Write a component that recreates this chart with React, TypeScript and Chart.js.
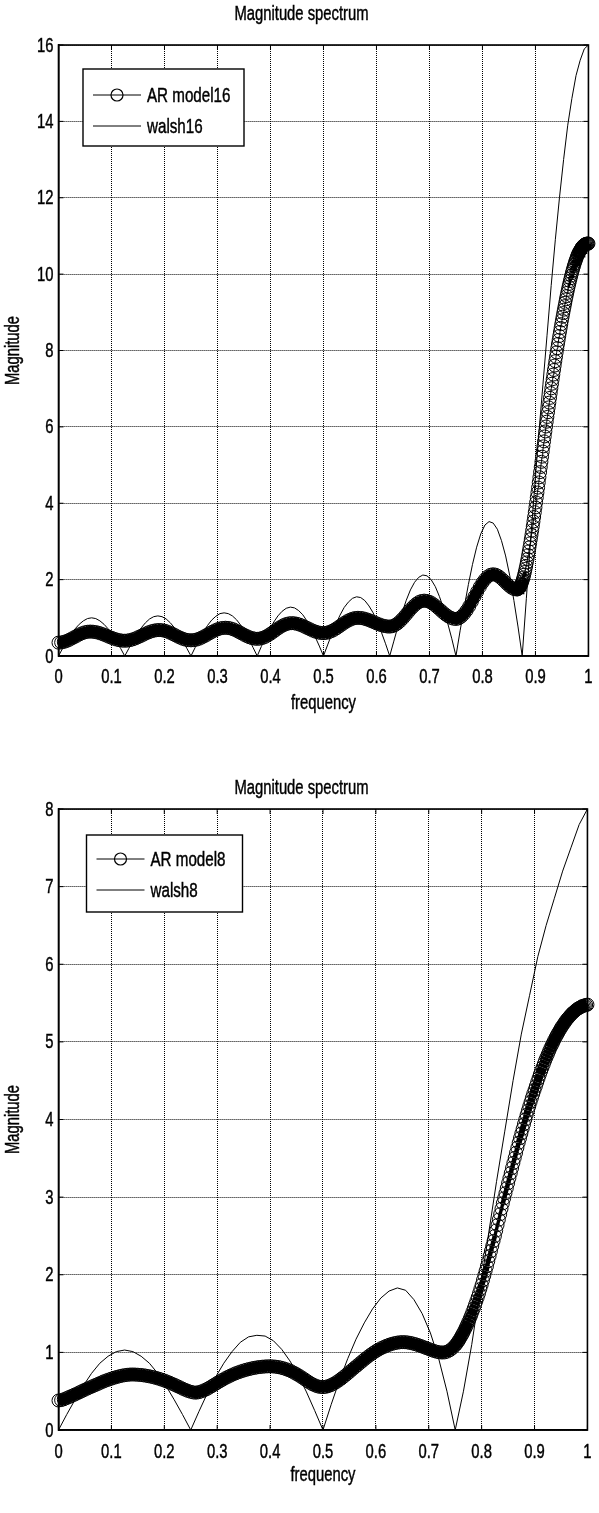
import React, { useEffect, useRef } from "react";
import { Chart, registerables } from "chart.js";

Chart.register(...registerables);

const FONT_FAMILY = '"Liberation Sans", Arial, sans-serif';

// ---- text ----
const TITLE = "Magnitude spectrum";
const X_LABEL = "frequency";
const Y_LABEL = "Magnitude";
const LABELS_16 = ["AR model16", "walsh16"];
const LABELS_8 = ["AR model8", "walsh8"];

// ---- tick labels ----
const FREQ_TICKS = [0, 0.1, 0.2, 0.3, 0.4, 0.5, 0.6, 0.7, 0.8, 0.9, 1];
const MAG16_TICKS = [0, 2, 4, 6, 8, 10, 12, 14, 16];
const MAG8_TICKS = [0, 1, 2, 3, 4, 5, 6, 7, 8];

// ---- walsh16 spectrum, sampled every 1/128 ----
const WALSH16_STEP = 1 / 128;
const WALSH16 = [
  0, 0.20, 0.38, 0.56, 0.71, 0.83, 0.92, 0.98, 1.0, 0.98, 0.92, 0.83, 0.71, 0.56, 0.38, 0.20,
  0, 0.20, 0.40, 0.58, 0.74, 0.87, 0.97, 1.03, 1.05, 1.03, 0.97, 0.87, 0.74, 0.58, 0.40, 0.20,
  0, 0.22, 0.43, 0.63, 0.80, 0.94, 1.04, 1.11, 1.13, 1.11, 1.05, 0.95, 0.81, 0.64, 0.44, 0.22,
  0, 0.25, 0.48, 0.70, 0.89, 1.05, 1.17, 1.25, 1.28, 1.26, 1.19, 1.08, 0.92, 0.73, 0.50, 0.26,
  0, 0.29, 0.57, 0.83, 1.07, 1.27, 1.41, 1.51, 1.55, 1.53, 1.45, 1.31, 1.13, 0.90, 0.62, 0.32,
  0, 0.39, 0.78, 1.14, 1.46, 1.73, 1.93, 2.06, 2.12, 2.10, 2.00, 1.82, 1.56, 1.25, 0.86, 0.45,
  0, 0.66, 1.28, 1.87, 2.40, 2.85, 3.20, 3.43, 3.52, 3.48, 3.32, 3.02, 2.62, 2.10, 1.45, 0.76,
  0, 1.5, 3.0, 4.4, 5.8, 7.1, 8.4, 9.7, 10.9, 12.0, 13.0, 13.9, 14.6, 15.2, 15.6, 15.9, 16,
];

// ---- walsh8 spectrum, sampled every 1/64 ----
const WALSH8_STEP = 1 / 64;
const WALSH8 = [
  0, 0.20, 0.39, 0.57, 0.73, 0.86, 0.95, 1.01, 1.03, 1.01, 0.95, 0.86, 0.73, 0.57, 0.39, 0.20,
  0, 0.24, 0.47, 0.68, 0.86, 1.01, 1.13, 1.20, 1.22, 1.21, 1.15, 1.04, 0.89, 0.71, 0.49, 0.25,
  0, 0.33, 0.64, 0.92, 1.17, 1.38, 1.56, 1.70, 1.79, 1.83, 1.80, 1.68, 1.50, 1.25, 0.92, 0.50,
  0, 0.5, 1.1, 1.8, 2.5, 3.2, 3.85, 4.5, 5.1, 5.6, 6.1, 6.5, 6.85, 7.2, 7.5, 7.8, 8.0,
];

// ---- AR model 16: every 0.005 up to 0.865, then every 0.00125 ----
const AR16_STEP = 0.005;
const AR16 = [
  0.35, 0.355, 0.369, 0.392, 0.423, 0.458, 0.495, 0.532, 0.568, 0.598, 0.621, 0.635, 0.64,
  0.636, 0.626, 0.61, 0.588, 0.563, 0.534, 0.506, 0.477, 0.452, 0.43, 0.414, 0.403, 0.40,
  0.404, 0.416, 0.435, 0.46, 0.49, 0.523, 0.557, 0.59, 0.62, 0.645, 0.664, 0.676, 0.68,
  0.675, 0.662, 0.641, 0.613, 0.58, 0.545, 0.51, 0.478, 0.449, 0.428, 0.415, 0.41,
  0.415, 0.429, 0.451, 0.481, 0.516, 0.555, 0.595, 0.634, 0.669, 0.699, 0.721, 0.735, 0.74,
  0.735, 0.721, 0.698, 0.668, 0.632, 0.595, 0.558, 0.523, 0.492, 0.469, 0.455, 0.45,
  0.456, 0.473, 0.501, 0.538, 0.581, 0.63, 0.68, 0.729, 0.772, 0.809, 0.837, 0.854, 0.86,
  0.856, 0.843, 0.822, 0.795, 0.764, 0.73, 0.696, 0.665, 0.638, 0.617, 0.604, 0.60,
  0.606, 0.623, 0.65, 0.686, 0.728, 0.776, 0.824, 0.872, 0.914, 0.95, 0.977, 0.994, 1.0,
  0.996, 0.985, 0.966, 0.943, 0.915, 0.885, 0.855, 0.828, 0.804, 0.785, 0.774, 0.77,
  0.78, 0.809, 0.855, 0.916, 0.988, 1.069, 1.151, 1.232, 1.304, 1.365, 1.411, 1.44, 1.45,
  1.442, 1.418, 1.38, 1.33, 1.272, 1.21, 1.148, 1.09, 1.04, 1.002, 0.978, 0.97,
  0.985, 1.029, 1.1, 1.19, 1.301, 1.425, 1.555, 1.685, 1.809, 1.92, 2.01, 2.082, 2.125, 2.14,
  2.128, 2.093, 2.04, 1.975, 1.905, 1.84, 1.787, 1.752, 1.74,
];
const AR16_FINE_START = 0.86625;
const AR16_FINE_STEP = 0.00125;
const AR16_FINE = [
  1.75, 1.76, 1.78, 1.80, 1.83, 1.86, 1.90, 1.95,
  2.0, 2.06, 2.13, 2.20, 2.28, 2.36, 2.45, 2.54,
  2.64, 2.74, 2.845, 2.95, 3.06, 3.17, 3.285, 3.40,
  3.52, 3.64, 3.765, 3.89, 4.02, 4.15, 4.28, 4.41,
  4.545, 4.68, 4.815, 4.95, 5.085, 5.22, 5.355, 5.49,
  5.62, 5.75, 5.88, 6.01, 6.135, 6.26, 6.385, 6.51,
  6.635, 6.76, 6.885, 7.01, 7.13, 7.25, 7.37, 7.49,
  7.605, 7.72, 7.835, 7.95, 8.06, 8.17, 8.275, 8.38,
  8.485, 8.59, 8.69, 8.79, 8.885, 8.98, 9.07, 9.16,
  9.25, 9.34, 9.425, 9.51, 9.59, 9.67, 9.745, 9.82,
  9.89, 9.96, 10.025, 10.09, 10.15, 10.21, 10.265, 10.32,
  10.37, 10.42, 10.465, 10.51, 10.545, 10.58, 10.61, 10.64,
  10.67, 10.7, 10.72, 10.74, 10.755, 10.77, 10.78, 10.79,
  10.795, 10.8, 10.8, 10.8,
];

// ---- AR model 8: every 0.005 up to 0.745, then every 0.0025 ----
const AR8_STEP = 0.005;
const AR8 = [
  0.38, 0.385, 0.395, 0.41, 0.425, 0.44, 0.455, 0.47, 0.487, 0.503,
  0.52, 0.535, 0.55, 0.565, 0.58, 0.595, 0.61, 0.625, 0.638, 0.65,
  0.662, 0.673, 0.683, 0.692, 0.70, 0.706, 0.711, 0.714, 0.715, 0.714,
  0.712, 0.709, 0.705, 0.70, 0.694, 0.687, 0.679, 0.67, 0.66, 0.649,
  0.637, 0.624, 0.61, 0.595, 0.58, 0.564, 0.548, 0.532, 0.517, 0.503,
  0.492, 0.484, 0.481, 0.487, 0.497, 0.51, 0.526, 0.545, 0.565, 0.586,
  0.607, 0.627, 0.647, 0.666, 0.684, 0.70, 0.716, 0.73, 0.743, 0.755,
  0.766, 0.776, 0.785, 0.793, 0.80, 0.806, 0.811, 0.815, 0.818, 0.82,
  0.82, 0.819, 0.816, 0.811, 0.804, 0.795, 0.784, 0.771, 0.756, 0.739,
  0.72, 0.70, 0.678, 0.655, 0.632, 0.61, 0.59, 0.574, 0.562, 0.555,
  0.553, 0.556, 0.565, 0.578, 0.595, 0.615, 0.638, 0.663, 0.69, 0.718,
  0.747, 0.776, 0.805, 0.833, 0.862, 0.89, 0.918, 0.945, 0.97, 0.994,
  1.016, 1.036, 1.054, 1.07, 1.085, 1.098, 1.109, 1.118, 1.125, 1.13,
  1.132, 1.131, 1.128, 1.122, 1.114, 1.105, 1.094, 1.082, 1.069, 1.056,
  1.043, 1.03, 1.018, 1.008, 1.001, 0.998, 1.0, 1.01, 1.028, 1.055,
];
const AR8_FINE_START = 0.75;
const AR8_FINE_STEP = 0.0025;
const AR8_FINE = [
  1.09, 1.11, 1.135, 1.16, 1.19, 1.22, 1.25, 1.285, 1.32, 1.357,
  1.395, 1.435, 1.475, 1.52, 1.565, 1.612, 1.66, 1.71, 1.76, 1.815,
  1.87, 1.93, 1.99, 2.05, 2.11, 2.175, 2.24, 2.305, 2.37, 2.435,
  2.5, 2.57, 2.64, 2.71, 2.78, 2.85, 2.92, 2.985, 3.05, 3.115,
  3.18, 3.245, 3.31, 3.375, 3.44, 3.505, 3.57, 3.635, 3.7, 3.76,
  3.82, 3.88, 3.94, 4.0, 4.06, 4.115, 4.17, 4.225, 4.28, 4.33,
  4.38, 4.43, 4.48, 4.53, 4.58, 4.625, 4.67, 4.715, 4.76, 4.8,
  4.84, 4.88, 4.92, 4.955, 4.99, 5.025, 5.06, 5.09, 5.12, 5.15,
  5.18, 5.205, 5.23, 5.255, 5.28, 5.3, 5.32, 5.34, 5.36, 5.375,
  5.39, 5.405, 5.42, 5.43, 5.44, 5.45, 5.46, 5.465, 5.47, 5.475,
  5.48,
];

type Pt = { x: number; y: number };
const onGrid = (vals: number[], start: number, step: number): Pt[] =>
  vals.map((y, i) => ({ x: start + i * step, y }));

const AR16_POINTS = [...onGrid(AR16, 0, AR16_STEP), ...onGrid(AR16_FINE, AR16_FINE_START, AR16_FINE_STEP)];
const WALSH16_POINTS = onGrid(WALSH16, 0, WALSH16_STEP);
const AR8_POINTS = [...onGrid(AR8, 0, AR8_STEP), ...onGrid(AR8_FINE, AR8_FINE_START, AR8_FINE_STEP)];
const WALSH8_POINTS = onGrid(WALSH8, 0, WALSH8_STEP);

const FONT_SIZE = 20;
const LEGEND_FONT_SIZE = 20.5;
const TEXT_CONDENSE = 0.74;
const PAGE_WIDTH = 599;
const CANVAS_WIDTH = 603; // right-most tick label spills past the page edge, as in the original

// condensed, slightly heavier (MATLAB-like) text: fillText on this context is squeezed horizontally
function condenseContext(ctx: any, sx: number) {
  if (!ctx || ctx.__condensed) return;
  const origFill = ctx.fillText.bind(ctx);
  const origStroke = ctx.strokeText.bind(ctx);
  ctx.fillText = (text: string, x: number, y: number, maxWidth?: number) => {
    ctx.save();
    ctx.translate(x, y);
    ctx.scale(sx, 1);
    const mw = maxWidth !== undefined && maxWidth !== null ? maxWidth / sx : undefined;
    if (mw !== undefined) origFill(text, 0, 0, mw);
    else origFill(text, 0, 0);
    ctx.setLineDash([]);
    ctx.strokeStyle = ctx.fillStyle;
    ctx.lineWidth = 0.45;
    if (mw !== undefined) origStroke(text, 0, 0, mw);
    else origStroke(text, 0, 0);
    ctx.restore();
  };
  ctx.__condensed = true;
}

// legend drawn inside the axes, MATLAB style
const boxLegendPlugin = {
  id: "boxLegend",
  afterDatasetsDraw(chart: any, _args: any, opts: any) {
    const { ctx, chartArea } = chart;
    const x0 = chartArea.left + opts.offsetX;
    const y0 = chartArea.top + opts.offsetY;
    ctx.save();
    ctx.fillStyle = "#fff";
    ctx.fillRect(x0, y0, opts.width, opts.height);
    ctx.strokeStyle = "#000";
    ctx.lineWidth = 1.4;
    ctx.strokeRect(x0, y0, opts.width, opts.height);
    chart.data.datasets.forEach((ds: any, i: number) => {
      const cy = y0 + opts.rowY[i];
      ctx.beginPath();
      ctx.lineWidth = 1;
      ctx.strokeStyle = "#000";
      ctx.moveTo(x0 + opts.lineX0, cy);
      ctx.lineTo(x0 + opts.lineX1, cy);
      ctx.stroke();
      if (ds.pointRadius > 0) {
        ctx.beginPath();
        ctx.lineWidth = 1.2;
        ctx.arc(x0 + (opts.lineX0 + opts.lineX1) / 2, cy, 6, 0, Math.PI * 2);
        ctx.stroke();
      }
      ctx.fillStyle = "#000";
      ctx.font = `${LEGEND_FONT_SIZE}px ${FONT_FAMILY}`;
      ctx.textBaseline = "middle";
      ctx.textAlign = "left";
      ctx.fillText(ds.label, x0 + opts.textX, cy + 1);
    });
    ctx.restore();
  },
};

// axes box with inward tick marks
const axesBoxPlugin = {
  id: "axesBox",
  afterDraw(chart: any) {
    const { ctx, chartArea, scales } = chart;
    const { left, right, top, bottom } = chartArea;
    ctx.save();
    ctx.strokeStyle = "#000";
    ctx.lineWidth = 1;
    const tl = 5;
    ctx.beginPath();
    scales.x.ticks.forEach((t: any) => {
      const px = scales.x.getPixelForValue(t.value);
      ctx.moveTo(px, bottom);
      ctx.lineTo(px, bottom - tl);
      ctx.moveTo(px, top);
      ctx.lineTo(px, top + tl);
    });
    scales.y.ticks.forEach((t: any) => {
      const py = scales.y.getPixelForValue(t.value);
      ctx.moveTo(left, py);
      ctx.lineTo(left + tl, py);
      ctx.moveTo(right, py);
      ctx.lineTo(right - tl, py);
    });
    ctx.stroke();
    ctx.lineWidth = 1.6;
    ctx.strokeRect(left, top, right - left, bottom - top);
    ctx.restore();
  },
};

// MATLAB's 512-sample '-o' trace: where the curve is shallow the markers pile up into a solid
// band; where it is steep they separate. Marker spacing there ~ 1.05 px * sqrt(1 + slope^2).
const bandWidth = (c: any) => {
  const dx = Math.abs(c.p1.x - c.p0.x) || 1e-6;
  const m = Math.abs(c.p1.y - c.p0.y) / dx;
  const spacing = 1.05 * Math.sqrt(1 + m * m);
  if (spacing <= 2.6) return 11;
  if (spacing >= 5) return 1;
  return 11 - ((spacing - 2.6) / 2.4) * 10;
};

type ChartSpec = {
  canvasHeight: number;
  yMax: number;
  yTicks: number[];
  labels: string[];
  arPoints: Pt[];
  walshPoints: Pt[];
  titlePad: { top: number; bottom: number };
  xAxisHeight: number;
  xTickPad: number;
  xTitleBottom: number;
  legend: any;
};

function SpectrumChart({ spec }: { spec: ChartSpec }) {
  const ref = useRef<HTMLCanvasElement | null>(null);
  useEffect(() => {
    if (!ref.current) return;
    condenseContext(ref.current.getContext("2d"), TEXT_CONDENSE);
    const chart = new Chart(ref.current, {
      type: "line",
      data: {
        datasets: [
          {
            label: spec.labels[0],
            data: spec.arPoints,
            borderColor: "#000",
            borderWidth: 1,
            segment: { borderWidth: bandWidth },
            pointStyle: "circle",
            pointRadius: 6.5,
            pointBorderWidth: 1,
            pointBorderColor: "#000",
            pointBackgroundColor: "rgba(0,0,0,0)",
            pointHoverRadius: 6.5,
            tension: 0,
            clip: false,
            order: 1,
          } as any,
          {
            label: spec.labels[1],
            data: spec.walshPoints,
            borderColor: "#000",
            borderWidth: 1,
            pointRadius: 0,
            pointHoverRadius: 0,
            tension: 0,
            order: 0,
          } as any,
        ],
      },
      options: {
        responsive: false,
        animation: false,
        events: [],
        layout: { padding: { left: 0, right: 0, top: 0, bottom: 0 } },
        font: { family: FONT_FAMILY, size: FONT_SIZE },
        plugins: {
          legend: { display: false },
          tooltip: { enabled: false },
          title: {
            display: true,
            text: TITLE,
            color: "#000",
            font: { family: FONT_FAMILY, size: FONT_SIZE, weight: "normal" },
            padding: spec.titlePad,
          },
          boxLegend: spec.legend,
        } as any,
        scales: {
          x: {
            type: "linear",
            min: 0,
            max: 1,
            afterBuildTicks: (s: any) => {
              s.ticks = FREQ_TICKS.map((v) => ({ value: v }));
            },
            afterFit: (s: any) => {
              s.height = spec.xAxisHeight;
            },
            ticks: {
              color: "#000",
              font: { family: FONT_FAMILY, size: FONT_SIZE },
              padding: spec.xTickPad,
              maxRotation: 0,
              autoSkip: false,
              callback: (v: any) => String(v),
            },
            grid: { color: "#000", lineWidth: 1, drawTicks: false },
            border: { display: true, color: "#000", width: 1.6, dash: [1, 1] },
            title: {
              display: true,
              text: X_LABEL,
              color: "#000",
              font: { family: FONT_FAMILY, size: FONT_SIZE },
              padding: { top: 0, bottom: spec.xTitleBottom },
            },
          },
          y: {
            type: "linear",
            min: 0,
            max: spec.yMax,
            afterBuildTicks: (s: any) => {
              s.ticks = spec.yTicks.map((v) => ({ value: v }));
            },
            afterFit: (s: any) => {
              s.width = 58.5;
              s.paddingTop = 0;
              s.paddingBottom = 0;
            },
            ticks: {
              color: "#000",
              font: { family: FONT_FAMILY, size: FONT_SIZE },
              padding: 5,
              labelOffset: 1,
              callback: (v: any) => String(v),
            },
            grid: { color: "#000", lineWidth: 1, drawTicks: false },
            border: { display: true, color: "#000", width: 1.6, dash: [1, 1] },
            title: {
              display: true,
              text: Y_LABEL,
              color: "#000",
              font: { family: FONT_FAMILY, size: FONT_SIZE },
              padding: { top: 1.8, bottom: 0 },
            },
          },
        },
      },
      plugins: [boxLegendPlugin, axesBoxPlugin],
    } as any);
    return () => chart.destroy();
  }, [spec]);
  return (
    <div style={{ width: PAGE_WIDTH, height: spec.canvasHeight, overflow: "hidden" }}>
      <canvas ref={ref} width={CANVAS_WIDTH} height={spec.canvasHeight} style={{ display: "block" }} />
    </div>
  );
}

const SPEC_16: ChartSpec = {
  canvasHeight: 757,
  yMax: 16,
  yTicks: MAG16_TICKS,
  labels: LABELS_16,
  arPoints: AR16_POINTS,
  walshPoints: WALSH16_POINTS,
  titlePad: { top: 2, bottom: 19 },
  xAxisHeight: 101,
  xTickPad: 9,
  xTitleBottom: 41.8,
  legend: { offsetX: 24.5, offsetY: 24, width: 161, height: 77, rowY: [26, 57], lineX0: 10, lineX1: 58, textX: 64 },
};

const SPEC_8: ChartSpec = {
  canvasHeight: 756,
  yMax: 8,
  yTicks: MAG8_TICKS,
  labels: LABELS_8,
  arPoints: AR8_POINTS,
  walshPoints: WALSH8_POINTS,
  titlePad: { top: 19, bottom: 9 },
  xAxisHeight: 83,
  xTickPad: 10,
  xTitleBottom: 25.8,
  legend: { offsetX: 28, offsetY: 26, width: 156, height: 77, rowY: [24, 55], lineX0: 10, lineX1: 58, textX: 64 },
};

export default function App() {
  return (
    <div style={{ position: "absolute", left: 0, top: 0, width: PAGE_WIDTH, height: 1513, background: "#fff", overflow: "hidden" }}>
      <SpectrumChart spec={SPEC_16} />
      <SpectrumChart spec={SPEC_8} />
    </div>
  );
}
